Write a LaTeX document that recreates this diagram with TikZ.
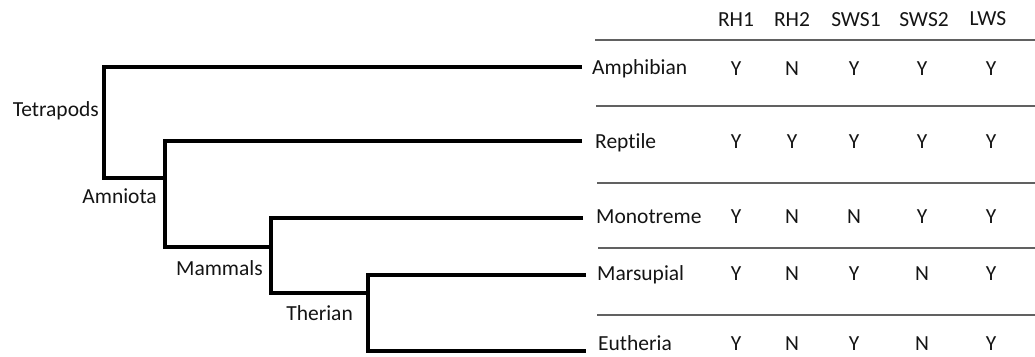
\documentclass[tikz,border=0pt]{standalone}
\usepackage{fontspec}
\setmainfont[Ligatures=NoCommon]{Carlito}
\begin{document}
\begin{tikzpicture}[x=1pt,y=-1pt,
  txt/.style={inner sep=0pt,text=black!92,font=\fontsize{21.5}{24}\selectfont},
  clade/.style={txt,anchor=base east},
  taxon/.style={txt,anchor=base west},
  cell/.style={txt,anchor=base},
  branch/.style={line width=3.2pt,black,line join=miter},
  rule/.style={line width=1.5pt,black!62}]
\useasboundingbox (0,0) rectangle (1035,356);
% clade labels
\node[clade] (tet) at (99,116) {Tetrapods};
\node[clade] (amn) at (157,203) {Amniota};
\node[clade] (mam) at (263,275) {Mammals};
\node[clade] (the) at (353,320) {Therian};
% taxa
\node[taxon] (amph) at (592,74) {Amphibian};
\node[taxon] (rept) at (595,148) {Reptile};
\node[taxon] (mono) at (596,223) {Monotreme};
\node[taxon] (mars) at (597,280) {Marsupial};
\node[taxon] (euth) at (598,350) {Eutheria};
% branch ends
\coordinate (eA) at (582,67);
\coordinate (eR) at (582,141);
\coordinate (eM) at (583,218);
\coordinate (eMa) at (586,275);
\coordinate (eE) at (586,351);
\coordinate (n1) at (104,178);
\coordinate (n2) at (165,247);
\coordinate (n3) at (271,293);
\coordinate (n4) at (368,351);
\draw[branch] (eA) -| (n1) -- (n1 -| n2);
\draw[branch] (eR) -| (n2) -- (n2 -| n3);
\draw[branch] (eM) -| (n3) -- (n3 -| n4);
\draw[branch] (eMa) -| (n4) -- (eE);
% header
\node[cell] (h1) at (736,26) {RH1};
\node[cell] (h2) at (792,26) {RH2};
\node[cell] (h3) at (856,26) {SWS1};
\node[cell] (h4) at (924,26) {SWS2};
\node[cell] (h5) at (988,25) {LWS};
% rules
\coordinate (r1a) at (595,40);  \coordinate (r1b) at (1035,40);
\coordinate (r2a) at (596,106); \coordinate (r2b) at (1035,106);
\coordinate (r3a) at (597,183); \coordinate (r3b) at (1035,183);
\coordinate (r4a) at (598,248); \coordinate (r4b) at (1035,248);
\coordinate (r5a) at (597,315); \coordinate (r5b) at (1035,315);
\draw[rule] (r1a) -- (r1b);
\draw[rule] (r2a) -- (r2b);
\draw[rule] (r3a) -- (r3b);
\draw[rule] (r4a) -- (r4b);
\draw[rule] (r5a) -- (r5b);
% cells
\foreach \r/\y/\a/\b/\c/\d/\e in {1/75/Y/N/Y/Y/Y, 2/148/Y/Y/Y/Y/Y, 3/223/Y/N/N/Y/Y, 4/280/Y/N/Y/N/Y, 5/350/Y/N/Y/N/Y}{
  \node[cell] (c\r a) at (736,\y) {\a};
  \node[cell] (c\r b) at (792,\y) {\b};
  \node[cell] (c\r c) at (854,\y) {\c};
  \node[cell] (c\r d) at (922,\y) {\d};
  \node[cell] (c\r e) at (991,\y) {\e};
}
\end{tikzpicture}
\end{document}
